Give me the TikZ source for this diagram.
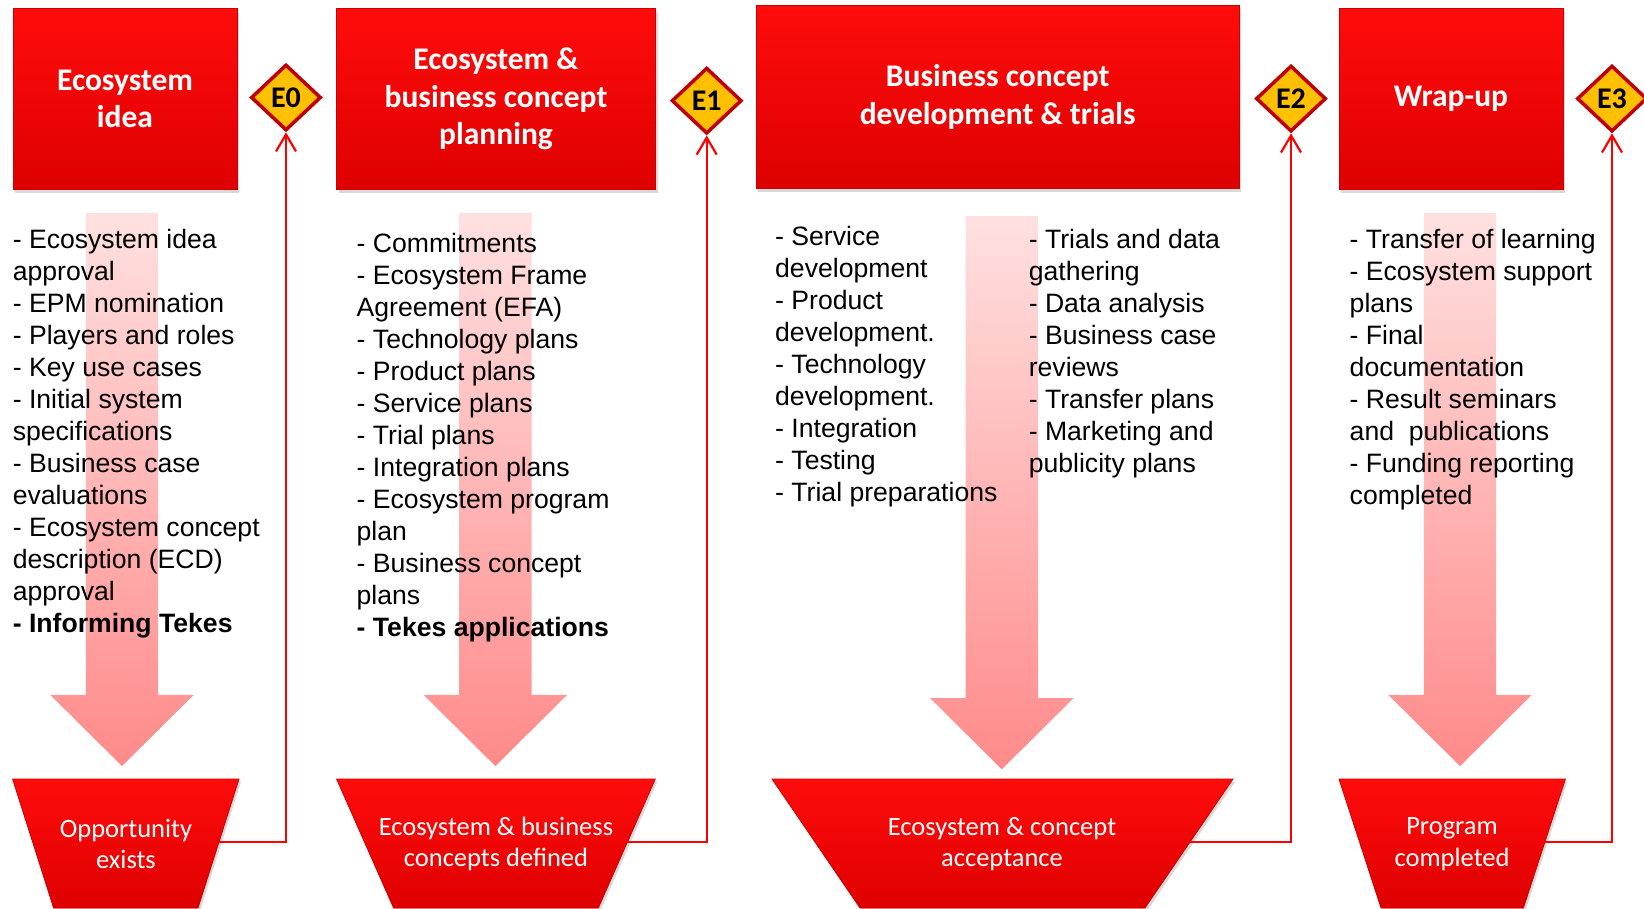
\documentclass[tikz,border=0pt]{standalone}
\usepackage{fontspec}
\setmainfont{Liberation Sans}
\newfontfamily\calfont{Carlito}
\usetikzlibrary{shapes.geometric,arrows.meta,shadows}
\definecolor{boxred}{RGB}{255,12,12}
\definecolor{boxdark}{RGB}{222,0,0}
\definecolor{gateyel}{RGB}{255,192,0}
\definecolor{gatered}{RGB}{192,0,0}
\begin{document}
\begin{tikzpicture}[x=1pt, y=-1pt,
  phase/.style={rectangle, top color=boxred, bottom color=boxdark, draw=red!80!black, line width=.8pt,
    drop shadow={shadow xshift=2pt, shadow yshift=-3pt, opacity=.3},
    text=white, align=center, font=\calfont\bfseries\fontsize{31.5}{37.7}\selectfont},
  gate/.style={diamond, fill=gateyel, draw=gatered, line width=3.5pt, minimum width=70pt,
    minimum height=66pt, inner sep=0pt, font=\calfont\bfseries\fontsize{30}{30}\selectfont},
  result/.style={top color=boxred, bottom color=boxdark, draw=red!80!black, line width=.8pt,
    drop shadow={shadow xshift=2pt, shadow yshift=-3pt, opacity=.3}},
  restext/.style={text=white, align=center, font=\calfont\fontsize{26.5}{31.5}\selectfont},
  items/.style={anchor=north west, inner sep=0pt, align=left, font=\fontsize{26.6}{32}\selectfont},
  link/.style={draw=red, line width=2.2pt, -{Straight Barb[length=17pt, width=20pt]}},
  bigarrow/.style={top color=red!12, bottom color=red!46}]
\useasboundingbox (0,0) rectangle (1644,908);

% big arrows behind the lists
\foreach \cx/\ty in {122/212.8, 495.4/212.8, 1001.8/216, 1460/212.8}
{
  \path[bigarrow, shift={(\cx,\ty)}] (-36.2,0) -- (36.2,0) -- (36.2,482) -- (71.8,482)
    -- (0,553.3) -- (-71.8,482) -- (-36.2,482) -- cycle;
}

% phases and gates
\node[phase, minimum width=224pt, minimum height=181pt] (idea) at (125,99) {Ecosystem\\idea};
\node[gate] (e0) at (286,97.5) {E0};
\node[phase, minimum width=319pt, minimum height=181pt] (plan) at (496,99) {Ecosystem \&\\business concept\\planning};
\node[gate] (e1) at (706.7,100.7) {E1};
\node[phase, minimum width=483pt, minimum height=183.5pt] (trial) at (997.7,97) {Business concept\\development \& trials};
\node[gate] (e2) at (1291,98.6) {E2};
\node[phase, minimum width=224pt, minimum height=181pt] (wrap) at (1451,99) {Wrap-up};
\node[gate] (e3) at (1612,98.6) {E3};

% lists
\node[items] (l1) at (12.6,229) {- Ecosystem idea\\approval\\- EPM nomination\\- Players and roles\\- Key use cases\\- Initial system\\specifications\\- Business case\\evaluations\\- Ecosystem concept\\description (ECD)\\approval\\\textbf{- Informing Tekes}};
\node[items] (l2) at (356.5,233) {- Commitments\\- Ecosystem Frame\\Agreement (EFA)\\- Technology plans\\- Product plans\\- Service plans\\- Trial plans\\- Integration plans\\- Ecosystem program\\plan\\- Business concept\\plans\\\textbf{- Tekes applications}};
\node[items] (l3a) at (775,226) {- Service\\development\\- Product\\development.\\- Technology\\development.\\- Integration\\- Testing\\- Trial preparations};
\node[items] (l3b) at (1028.6,229) {- Trials and data\\gathering\\- Data analysis\\- Business case\\reviews\\- Transfer plans\\- Marketing and\\publicity plans};
\node[items] (l4) at (1349.5,229) {- Transfer of learning\\- Ecosystem support\\plans\\- Final\\documentation\\- Result seminars\\and\ \ publications\\- Funding reporting\\completed};

% results
\path[result] (12.6,779) -- (239,779) -- (198,908) -- (53.6,908) -- cycle;
\node[restext] (opp) at (126,844) {Opportunity\\exists};
\coordinate (opp-r) at (219,842);
\path[result] (336.6,779) -- (655.3,779) -- (598.3,908) -- (393.6,908) -- cycle;
\node[restext] (def) at (496,844) {Ecosystem \& business\\concepts defined};
\coordinate (def-r) at (627.5,842);
\path[result] (772,779) -- (1233,779) -- (1145,908) -- (860,908) -- cycle;
\node[restext] (acc) at (1002,844) {Ecosystem \& concept\\acceptance};
\coordinate (acc-r) at (1190,842);
\path[result] (1339,779) -- (1565.4,779) -- (1523.4,908) -- (1381,908) -- cycle;
\node[restext] (done) at (1452,844) {Program\\completed};
\coordinate (done-r) at (1545,842);

\draw[link] (opp-r) -| (e0.south);
\draw[link] (def-r) -| (e1.south);
\draw[link] (acc-r) -| (e2.south);
\draw[link] (done-r) -| (e3.south);
\end{tikzpicture}
\end{document}
